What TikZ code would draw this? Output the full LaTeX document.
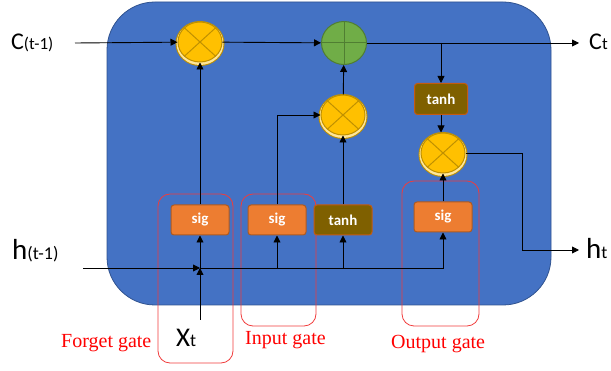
\documentclass[tikz,border=0pt]{standalone}
\usepackage{fontspec}
\setmainfont{Carlito}
\newfontfamily\gatefont{Liberation Serif}
\usetikzlibrary{arrows.meta,shapes.geometric}

\definecolor{cellblue}{HTML}{4472C4}
\definecolor{celledge}{HTML}{2F528F}
\definecolor{sigfill}{HTML}{ED7D31}
\definecolor{sigedge}{HTML}{AE5A21}
\definecolor{tanhfill}{HTML}{7F6000}
\definecolor{tanhedge}{HTML}{C55A11}
\definecolor{mulfill}{HTML}{FFC000}
\definecolor{muledge}{HTML}{BF9000}
\definecolor{mulrim}{HTML}{FFE699}
\definecolor{addfill}{HTML}{70AD47}
\definecolor{addedge}{HTML}{507E32}
\definecolor{gateline}{HTML}{F03C3C}

\tikzset{
  arr/.style={draw=black, line width=0.9pt, -{Triangle[length=7pt,width=7pt]}},
  cellbox/.style={rectangle, rounded corners=48pt, fill=cellblue, draw=celledge, line width=0.8pt, inner sep=0pt},
  actbox/.style={rectangle, rounded corners=3pt, minimum width=58pt, minimum height=30pt,
    line width=1pt, text=white, font=\fontsize{15}{15}\selectfont\bfseries, inner sep=0pt},
  sigbox/.style={actbox, fill=sigfill, draw=sigedge},
  tanhbox/.style={actbox, fill=tanhfill, draw=tanhedge},
  mulop/.style={ellipse, minimum width=44pt, minimum height=40pt, inner sep=0pt, fill=mulfill, draw=muledge, line width=1pt,
    preaction={draw=muledge, line width=5pt, transform canvas={yshift=-1.5pt}},
    preaction={draw=mulrim, line width=3pt, transform canvas={yshift=-1.5pt}},
    path picture={
      \draw[muledge, line width=1pt]
        (path picture bounding box.north west) -- (path picture bounding box.south east)
        (path picture bounding box.north east) -- (path picture bounding box.south west);}},
  addop/.style={ellipse, minimum width=45pt, minimum height=43pt, inner sep=0pt, fill=addfill, draw=addedge, line width=1pt,
    path picture={
      \draw[addedge, line width=1pt]
        (path picture bounding box.north) -- (path picture bounding box.south)
        (path picture bounding box.west) -- (path picture bounding box.east);}},
  gatebox/.style={rectangle, rounded corners=12pt, draw=gateline, line width=0.8pt, inner sep=0pt},
  gatelabel/.style={text=red, font=\gatefont\fontsize{20}{20}\selectfont, inner sep=0pt, anchor=base west},
  varlabel/.style={text=black, inner sep=0pt, anchor=base west},
}

\begin{document}
\begin{tikzpicture}[x=1pt, y=-1pt]
  \useasboundingbox (0,0) rectangle (611,371);

  % LSTM cell body
  \node[cellbox, minimum width=444pt, minimum height=303pt] (cell) at (329,153.5) {};

  % gate groupings
  \node[gatebox, minimum width=75pt, minimum height=169pt] (gforget) at (195.5,278.5) {};
  \node[gatebox, minimum width=75pt, minimum height=132pt] (ginput) at (278.5,260) {};
  \node[gatebox, minimum width=77pt, minimum height=145pt] (goutput) at (440.5,253.5) {};

  % pointwise operations
  \node[mulop] (m1) at (200,42) {};
  \node[addop] (add) at (344,43) {};
  \node[mulop] (m2) at (343,115) {};
  \node[mulop] (m3) at (443,153) {};

  % activation layers
  \node[tanhbox, minimum width=53pt, minimum height=31pt] (tanhT) at (441,99) {tanh};
  \node[sigbox] (sigF) at (200,220) {sig};
  \node[sigbox] (sigI) at (277,220) {sig};
  \node[tanhbox] (tanhB) at (343,220) {tanh};
  \node[sigbox] (sigO) at (443,217) {sig};

  % inputs and outputs
  \node[varlabel] (cin) at (11,50) {\fontsize{24}{24}\selectfont C\fontsize{17}{17}\selectfont(t-1)};
  \node[varlabel] (cout) at (589,50) {\fontsize{24}{24}\selectfont C\fontsize{17}{17}\selectfont t};
  \node[varlabel] (hin) at (12,260) {\fontsize{29}{29}\selectfont h\fontsize{18}{18}\selectfont(t-1)};
  \node[varlabel] (hout) at (586,259) {\fontsize{29}{29}\selectfont h\fontsize{18}{18}\selectfont t};
  \node[varlabel] (xin) at (176,347) {\fontsize{27}{27}\selectfont X\fontsize{18}{18}\selectfont t};

  \coordinate (cstart) at (75,43);
  \coordinate (cend) at (579,43);
  \coordinate (hstart) at (83,268);
  \coordinate (hend) at (579,250);
  \coordinate (hturn) at (522,250);
  \coordinate (xstart) at (200,320);
  \coordinate (junc) at (200,268);

  % gate labels
  \node[gatelabel] (lforget) at (61,348) {Forget gate};
  \node[gatelabel] (linput) at (245,345) {Input gate};
  \node[gatelabel] (loutput) at (391,349) {Output gate};

  % cell state path
  \draw[arr] (cstart) -- (m1);
  \draw[arr] (m1) -- (add);
  \draw[arr] (add) -- (cend);
  \draw[arr] (tanhT.north |- add.east) -- (tanhT.north);
  \draw[arr] (tanhT.south) -- (tanhT.south |- m3.north);
  \draw[arr] (m2) -- (add);

  % gate outputs
  \draw[arr] (sigF) -- (m1);
  \draw[arr] (sigI.north) |- (m2);
  \draw[arr] (tanhB) -- (m2);
  \draw[arr] (sigO) -- (m3);
  \draw[arr] (m3) -| (hturn) -- (hend);

  % hidden state and input
  \draw[arr] (hstart) -- (junc);
  \draw[arr] (xstart) -- (junc);
  \draw[arr] (junc) -- (sigF);
  \draw[arr] (junc) -| (sigO.south);
  \draw[arr] (sigI.south |- junc) -- (sigI);
  \draw[arr] (tanhB.south |- junc) -- (tanhB);
\end{tikzpicture}
\end{document}
